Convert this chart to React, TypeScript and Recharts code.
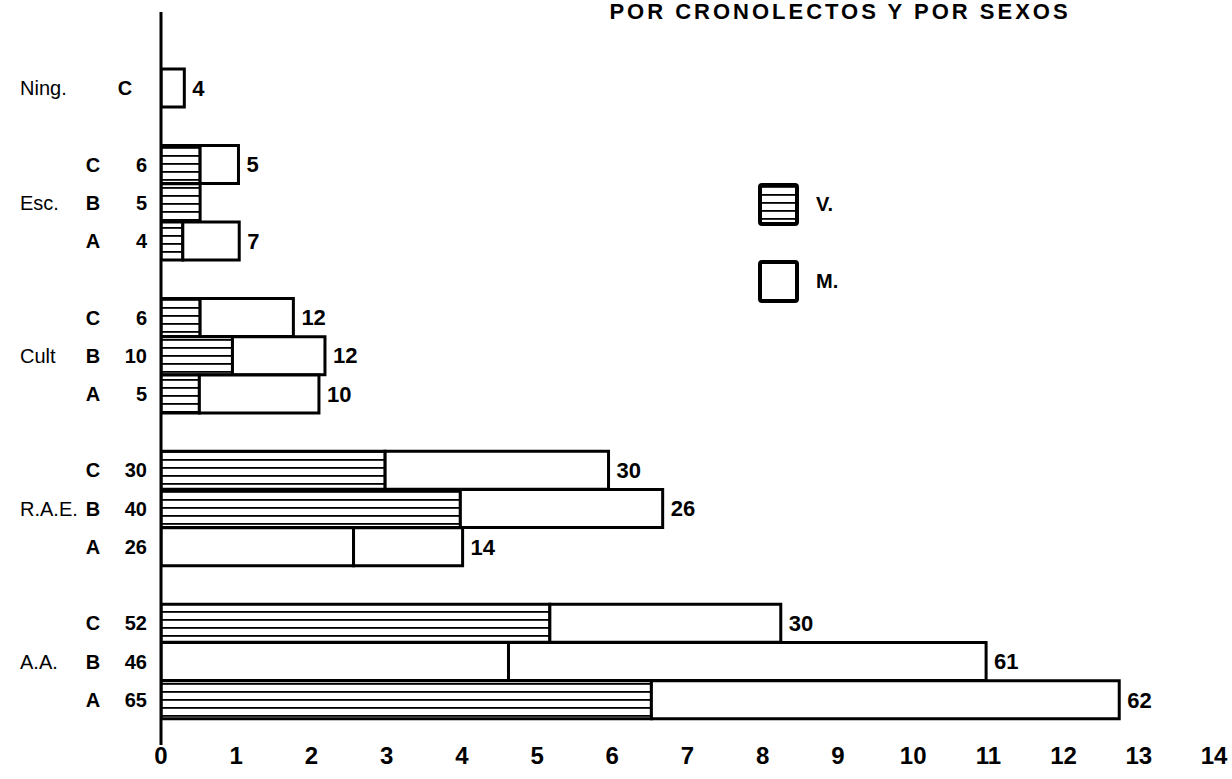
import { BarChart, Bar, XAxis, YAxis, Legend, LabelList, Cell } from 'recharts'

// filas de arriba abajo
const grupos = ['Ning.', 'Esc.', 'Esc.', 'Esc.', 'Cult', 'Cult', 'Cult', 'R.A.E.', 'R.A.E.', 'R.A.E.', 'A.A.', 'A.A.', 'A.A.']
const cronolectos = ['C', 'C', 'B', 'A', 'C', 'B', 'A', 'C', 'B', 'A', 'C', 'B', 'A']
const varonesN = [null, 6, 5, 4, 6, 10, 5, 30, 40, 26, 52, 46, 65]
const mujeresN = [4, 5, 1, 7, 12, 12, 10, 30, 26, 14, 30, 61, 62]
// longitud de cada tramo en unidades del eje
const varonesLen = [0, 0.52, 0.52, 0.29, 0.52, 0.95, 0.51, 2.98, 3.98, 2.56, 5.17, 4.62, 6.52]
const mujeresLen = [0.31, 0.51, 0, 0.75, 1.24, 1.23, 1.59, 2.97, 2.69, 1.45, 3.07, 6.35, 6.22]
// tramos V. que en el original salen sin rayar
const sinRayado = [false, false, false, false, false, false, false, false, false, true, false, true, false]
const xTicks = [0, 1, 2, 3, 4, 5, 6, 7, 8, 9, 10, 11, 12, 13, 14]

const TITLE = 'POR CRONOLECTOS Y POR SEXOS'
const SANS = "'Liberation Sans', Arial, Helvetica, sans-serif"

type Row = {
  id: string
  grupo?: string
  crono?: string
  vN?: number | null
  mN?: number
  v?: number
  m?: number
  plain?: boolean
  showGroup?: boolean
}

const rows: Row[] = []
grupos.forEach((g, i) => {
  if (i > 0 && grupos[i - 1] !== g) rows.push({ id: `gap-${i}` })
  const size = grupos.filter((x) => x === g).length
  rows.push({
    id: `${g}-${cronolectos[i]}`,
    grupo: g,
    crono: cronolectos[i],
    vN: varonesN[i],
    mN: mujeresN[i],
    v: varonesLen[i],
    m: mujeresLen[i],
    plain: sinRayado[i],
    showGroup: size === 1 || cronolectos[i] === 'B',
  })
})
const rowById: Record<string, Row> = Object.fromEntries(rows.map((r) => [r.id, r]))

function RowTick({ y, payload }: any) {
  const row = rowById[payload?.value]
  if (!row || !row.grupo) return null
  const single = row.vN == null
  return (
    <g fontFamily={SANS} fill="#000">
      {row.showGroup && (
        <text x={20} y={y} dy="0.35em" fontSize={20}>
          {row.grupo}
        </text>
      )}
      <text x={single ? 125 : 93} y={y} dy="0.35em" fontSize={20} fontWeight="bold" textAnchor="middle">
        {row.crono}
      </text>
      {!single && (
        <text x={147} y={y} dy="0.35em" fontSize={20} fontWeight="bold" textAnchor="end">
          {row.vN}
        </text>
      )}
    </g>
  )
}

function LegendBoxes({ payload }: any) {
  const items = (payload ?? []).slice().sort((a: any) => (a.dataKey === 'v' ? -1 : 1))
  return (
    <div>
      {items.map((it: any) => (
        <div key={it.dataKey} style={{ display: 'flex', alignItems: 'center', height: 43, marginBottom: 34 }}>
          <svg width={42} height={44}>
            <rect x={2} y={2} width={37} height={39} fill={it.dataKey === 'v' ? 'url(#rayado)' : '#fff'} stroke="#000" strokeWidth={4} rx={2} />
          </svg>
          <span style={{ marginLeft: 16, fontFamily: SANS, fontWeight: 'bold', fontSize: 20 }}>{it.value}</span>
        </div>
      ))}
    </div>
  )
}

export default function App() {
  return (
    <div style={{ position: 'relative', width: 1232, height: 779, background: '#fff', overflow: 'hidden' }}>
      <style>{'body{margin:0}'}</style>
      <svg width={0} height={0} style={{ position: 'absolute' }}>
        <defs>
          <pattern id="rayado" patternUnits="userSpaceOnUse" width={10} height={8}>
            <rect width={10} height={8} fill="#fff" />
            <rect y={3} width={10} height={1.8} fill="#000" />
          </pattern>
        </defs>
      </svg>
      <div
        style={{
          position: 'absolute',
          left: 540,
          top: 0,
          width: 600,
          textAlign: 'center',
          fontFamily: SANS,
          fontWeight: 'bold',
          fontSize: 22,
          lineHeight: '24px',
          letterSpacing: 3,
          color: '#000',
          zIndex: 2,
        }}
      >
        {TITLE}
      </div>
      <BarChart
        width={1232}
        height={779}
        data={rows}
        layout="vertical"
        margin={{ top: 12, right: 18, bottom: 0, left: 0 }}
        barCategoryGap={0}
      >
        <XAxis
          type="number"
          domain={[0, 14]}
          ticks={xTicks}
          interval={0}
          axisLine={false}
          tickLine={false}
          tickSize={0}
          tickMargin={2}
          height={34}
          allowDataOverflow
          tick={{ fill: '#000', fontSize: 24, fontWeight: 'bold', fontFamily: SANS }}
        />
        <YAxis
          type="category"
          dataKey="id"
          width={161}
          interval={0}
          axisLine={{ stroke: '#000', strokeWidth: 3 }}
          tickLine={false}
          padding={{ top: 57, bottom: 26 }}
          tick={(props: any) => <RowTick {...props} />}
        />
        <Legend
          layout="vertical"
          align="center"
          verticalAlign="middle"
          wrapperStyle={{ position: 'absolute', left: 758, top: 183, width: 120 }}
          content={(props: any) => <LegendBoxes {...props} />}
        />
        <Bar dataKey="v" name="V." stackId="s" stroke="#000" strokeWidth={3} isAnimationActive={false}>
          {rows.map((r) => (
            <Cell key={r.id} fill={r.plain ? '#fff' : 'url(#rayado)'} />
          ))}
        </Bar>
        <Bar dataKey="m" name="M." stackId="s" fill="#fff" stroke="#000" strokeWidth={3} isAnimationActive={false}>
          <LabelList
            dataKey="mN"
            position="right"
            offset={8}
            fill="#000"
            fontSize={22}
            fontWeight="bold"
            fontFamily={SANS}
          />
        </Bar>
      </BarChart>
    </div>
  )
}
